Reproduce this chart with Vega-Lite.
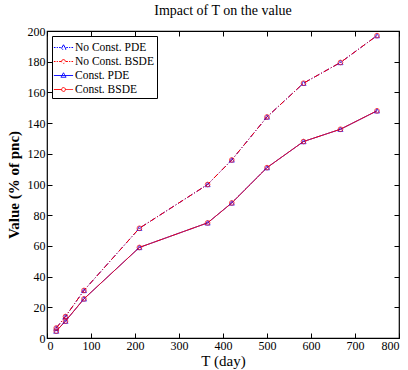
{
  "$schema": "https://vega.github.io/schema/vega-lite/v6.json",
  "autosize": "none",
  "width": 352,
  "height": 307,
  "padding": {"left": 47, "top": 31, "right": 9, "bottom": 32},
  "background": "white",
  "title": {"text": "Impact of T on the value", "font": "Liberation Serif, Times New Roman, serif", "fontSize": 14, "fontWeight": "normal", "offset": 7, "color": "black"},
  "config": {
    "font": "Liberation Serif, Times New Roman, serif",
    "view": {"stroke": "black", "strokeWidth": 1.2},
    "axis": {"labelFont": "Liberation Serif, Times New Roman, serif", "titleFont": "Liberation Serif, Times New Roman, serif", "labelFontSize": 12, "labelColor": "black", "titleColor": "black", "grid": false, "domain": false, "tickColor": "black", "tickSize": -5, "labelPadding": 7},
    "legend": {
      "title": null, "orient": "top-left", "offset": 5, "padding": 3, "strokeColor": "black", "fillColor": "white",
      "labelFont": "Liberation Serif, Times New Roman, serif", "labelFontSize": 11.5, "labelColor": "black", "symbolSize": 256, "rowPadding": 0, "labelOffset": 3
    }
  },
  "data": {"values": [
    {"T": 21, "value": 6.5, "series": "No Const. PDE"},
    {"T": 42, "value": 14, "series": "No Const. PDE"},
    {"T": 84, "value": 31, "series": "No Const. PDE"},
    {"T": 210, "value": 71.5, "series": "No Const. PDE"},
    {"T": 365, "value": 100, "series": "No Const. PDE"},
    {"T": 420, "value": 116, "series": "No Const. PDE"},
    {"T": 500, "value": 144, "series": "No Const. PDE"},
    {"T": 583, "value": 166, "series": "No Const. PDE"},
    {"T": 667, "value": 179.5, "series": "No Const. PDE"},
    {"T": 750, "value": 197, "series": "No Const. PDE"},
    {"T": 21, "value": 4.5, "series": "Const. PDE"},
    {"T": 42, "value": 11, "series": "Const. PDE"},
    {"T": 84, "value": 25.5, "series": "Const. PDE"},
    {"T": 210, "value": 59, "series": "Const. PDE"},
    {"T": 365, "value": 75, "series": "Const. PDE"},
    {"T": 420, "value": 88, "series": "Const. PDE"},
    {"T": 500, "value": 111, "series": "Const. PDE"},
    {"T": 583, "value": 128, "series": "Const. PDE"},
    {"T": 667, "value": 136, "series": "Const. PDE"},
    {"T": 750, "value": 148, "series": "Const. PDE"},
    {"T": 21, "value": 6.5, "series": "No Const. BSDE"},
    {"T": 42, "value": 14, "series": "No Const. BSDE"},
    {"T": 84, "value": 31, "series": "No Const. BSDE"},
    {"T": 210, "value": 71.5, "series": "No Const. BSDE"},
    {"T": 365, "value": 100, "series": "No Const. BSDE"},
    {"T": 420, "value": 116, "series": "No Const. BSDE"},
    {"T": 500, "value": 144, "series": "No Const. BSDE"},
    {"T": 583, "value": 166, "series": "No Const. BSDE"},
    {"T": 667, "value": 179.5, "series": "No Const. BSDE"},
    {"T": 750, "value": 197, "series": "No Const. BSDE"},
    {"T": 21, "value": 4.5, "series": "Const. BSDE"},
    {"T": 42, "value": 11, "series": "Const. BSDE"},
    {"T": 84, "value": 25.5, "series": "Const. BSDE"},
    {"T": 210, "value": 59, "series": "Const. BSDE"},
    {"T": 365, "value": 75, "series": "Const. BSDE"},
    {"T": 420, "value": 88, "series": "Const. BSDE"},
    {"T": 500, "value": 111, "series": "Const. BSDE"},
    {"T": 583, "value": 128, "series": "Const. BSDE"},
    {"T": 667, "value": 136, "series": "Const. BSDE"},
    {"T": 750, "value": 148, "series": "Const. BSDE"}
  ]},
  "resolve": {"axis": {"x": "independent", "y": "independent"}},
  "layer": [
    {
      "mark": {"type": "line", "strokeWidth": 1},
      "encoding": {
        "x": {"field": "T", "type": "quantitative", "scale": {"domain": [0, 800], "nice": false}, "axis": {"title": "T (day)", "titleFontSize": 15, "titleFontWeight": "normal", "values": [0,100,200,300,400,500,600,700,800], "titlePadding": 2}},
        "y": {"field": "value", "type": "quantitative", "scale": {"domain": [0, 200], "nice": false}, "axis": {"title": "Value (% of pnc)", "titleFontSize": 15, "titleFontWeight": "bold", "values": [0,20,40,60,80,100,120,140,160,180,200], "titlePadding": 6}},
        "color": {"field": "series", "type": "nominal", "scale": {"domain": ["No Const. PDE", "No Const. BSDE", "Const. PDE", "Const. BSDE"], "range": ["#0000ff", "#ff0000", "#0000ff", "#ff0000"]}, "legend": {
          "encode": {"symbols": {"update": {
            "shape": {"signal": "datum.value === 'No Const. PDE' ? 'M-1.2,0H-1M-0.85,0H-0.7M-0.55,0H-0.35M0.35,0H0.55M0.7,0H0.85M1,0H1.2M0,-0.34L0.32,0.22L-0.32,0.22Z' : datum.value === 'No Const. BSDE' ? 'M-1.2,0H-1M-0.85,0H-0.7M-0.55,0H-0.3M0.3,0H0.55M0.7,0H0.85M1,0H1.2M-0.24,0A0.24,0.24 0 1,1 0.24,0A0.24,0.24 0 1,1 -0.24,0Z' : datum.value === 'Const. PDE' ? 'M-1.2,0H1.2M0,-0.34L0.32,0.22L-0.32,0.22Z' : 'M-1.2,0H-0.24M0.24,0H1.2M-0.24,0A0.24,0.24 0 1,1 0.24,0A0.24,0.24 0 1,1 -0.24,0Z'"},
            "fill": {"value": "transparent"},
            "stroke": {"scale": "color", "field": "value"},
            "strokeWidth": {"value": 1},
            "strokeDash": {"value": [1, 0]}
          }}}
        }},
        "strokeDash": {"field": "series", "type": "nominal", "legend": null, "scale": {"domain": ["No Const. PDE", "No Const. BSDE", "Const. PDE", "Const. BSDE"], "range": [[6, 2, 1, 2], [6, 2, 1, 2], [1, 0], [1, 0]]}}
      }
    },
    {
      "transform": [{"filter": "indexof(datum.series, 'PDE') >= 0"}],
      "mark": {"type": "point", "shape": "triangle-up", "filled": false, "size": 26, "strokeWidth": 1},
      "encoding": {
        "x": {"field": "T", "type": "quantitative", "axis": {"orient": "top", "labels": false, "title": null, "values": [0,100,200,300,400,500,600,700,800]}},
        "y": {"field": "value", "type": "quantitative", "axis": {"orient": "right", "labels": false, "title": null, "values": [0,20,40,60,80,100,120,140,160,180,200]}},
        "color": {"field": "series", "type": "nominal"}
      }
    },
    {
      "transform": [{"filter": "indexof(datum.series, 'BSDE') >= 0"}],
      "mark": {"type": "point", "shape": "circle", "filled": false, "size": 22, "strokeWidth": 1},
      "encoding": {
        "x": {"field": "T", "type": "quantitative", "axis": null},
        "y": {"field": "value", "type": "quantitative", "axis": null},
        "color": {"field": "series", "type": "nominal"}
      }
    }
  ]
}
